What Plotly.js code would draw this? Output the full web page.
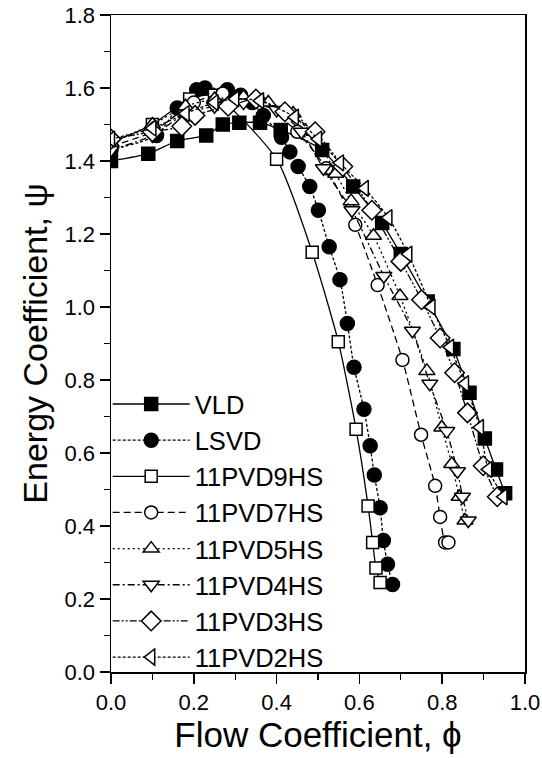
<!DOCTYPE html>
<html>
<head>
<meta charset="utf-8">
<script src="https://cdn.plot.ly/plotly-3.0.1.min.js"></script>
<style>html,body{margin:0;padding:0;background:#fff;}#chart{width:542px;height:758px;}</style>
</head>
<body>
<div id="chart"></div>
<script>
// Series names
const seriesNames = ["VLD", "LSVD", "11PVD9HS", "11PVD7HS", "11PVD5HS", "11PVD4HS", "11PVD3HS", "11PVD2HS"];

// Data (flow coefficient phi, energy coefficient psi)
const vldPhi = [0, 0.09, 0.16, 0.23, 0.27, 0.31, 0.36, 0.41, 0.51, 0.585, 0.655, 0.70, 0.765, 0.827, 0.866, 0.903, 0.93, 0.952];
const vldPsi = [1.40, 1.42, 1.455, 1.47, 1.50, 1.505, 1.505, 1.485, 1.43, 1.33, 1.23, 1.145, 1.015, 0.885, 0.765, 0.64, 0.555, 0.49];

const lsvdPhi = [0, 0.11, 0.16, 0.207, 0.227, 0.281, 0.313, 0.341, 0.368, 0.412, 0.432, 0.452, 0.48, 0.501, 0.527, 0.553, 0.571, 0.587, 0.611, 0.626, 0.636, 0.65, 0.658, 0.668, 0.68];
const lsvdPsi = [1.43, 1.47, 1.545, 1.595, 1.60, 1.595, 1.58, 1.56, 1.525, 1.465, 1.425, 1.385, 1.33, 1.265, 1.165, 1.075, 0.955, 0.835, 0.72, 0.62, 0.54, 0.45, 0.36, 0.295, 0.24];

const pvd9Phi = [0, 0.1, 0.19, 0.25, 0.40, 0.486, 0.549, 0.592, 0.621, 0.632, 0.640, 0.65];
const pvd9Psi = [1.45, 1.50, 1.57, 1.58, 1.405, 1.15, 0.905, 0.665, 0.455, 0.355, 0.285, 0.245];

const pvd7Phi = [0, 0.1, 0.2, 0.27, 0.35, 0.45, 0.52, 0.59, 0.644, 0.704, 0.749, 0.783, 0.795, 0.807, 0.815];
const pvd7Psi = [1.44, 1.48, 1.56, 1.585, 1.57, 1.48, 1.38, 1.225, 1.06, 0.855, 0.65, 0.51, 0.425, 0.355, 0.355];

const pvd5Phi = [0, 0.1, 0.18, 0.25, 0.32, 0.38, 0.44, 0.49, 0.543, 0.58, 0.634, 0.698, 0.763, 0.799, 0.823, 0.841, 0.855];
const pvd5Psi = [1.45, 1.50, 1.55, 1.57, 1.575, 1.56, 1.53, 1.48, 1.365, 1.29, 1.195, 1.03, 0.825, 0.67, 0.57, 0.48, 0.415];

const pvd4Phi = [0, 0.1, 0.18, 0.25, 0.32, 0.40, 0.46, 0.513, 0.582, 0.659, 0.728, 0.770, 0.811, 0.837, 0.849, 0.863];
const pvd4Psi = [1.43, 1.47, 1.53, 1.55, 1.56, 1.54, 1.48, 1.38, 1.265, 1.085, 0.935, 0.79, 0.66, 0.55, 0.48, 0.415];

const pvd3Phi = [0, 0.1, 0.171, 0.203, 0.283, 0.35, 0.42, 0.493, 0.56, 0.63, 0.70, 0.75, 0.795, 0.83, 0.861, 0.899, 0.933];
const pvd3Psi = [1.46, 1.48, 1.495, 1.525, 1.55, 1.57, 1.535, 1.48, 1.385, 1.265, 1.125, 1.02, 0.915, 0.82, 0.71, 0.565, 0.48];

const pvd2Phi = [0, 0.1, 0.18, 0.25, 0.30, 0.36, 0.444, 0.50, 0.553, 0.613, 0.67, 0.718, 0.774, 0.819, 0.855, 0.891, 0.911, 0.948];
const pvd2Psi = [1.46, 1.49, 1.53, 1.56, 1.57, 1.565, 1.52, 1.46, 1.395, 1.325, 1.245, 1.145, 1.0, 0.89, 0.79, 0.67, 0.555, 0.48];

// Axis ticks
const xTicks = [0.0, 0.2, 0.4, 0.6, 0.8, 1.0];
const xTickLabels = ["0.0", "0.2", "0.4", "0.6", "0.8", "1.0"];
const yTicks = [0.0, 0.2, 0.4, 0.6, 0.8, 1.0, 1.2, 1.4, 1.6, 1.8];
const yTickLabels = ["0.0", "0.2", "0.4", "0.6", "0.8", "1.0", "1.2", "1.4", "1.6", "1.8"];

const xs = [vldPhi, lsvdPhi, pvd9Phi, pvd7Phi, pvd5Phi, pvd4Phi, pvd3Phi, pvd2Phi];
const ys = [vldPsi, lsvdPsi, pvd9Psi, pvd7Psi, pvd5Psi, pvd4Psi, pvd3Psi, pvd2Psi];
const symbols = ["square", "circle", "square", "circle", "triangle-up", "triangle-down", "diamond", "triangle-left"];
const dashes = ["solid", "3px,2px", "solid", "7px,4px", "2px,3px", "7px,3px,2px,3px", "7px,2px,2px,2px,2px,2px", "3px,2px"];
const sizes = [13, 14, 12, 13, 14, 14, 15, 14];

const traces = seriesNames.map((n, i) => ({
  type: "scatter",
  mode: "lines+markers",
  name: n,
  x: xs[i],
  y: ys[i],
  legendgroup: "g" + i,
  line: {color: "#000", width: 1.3, dash: dashes[i], shape: "spline", smoothing: 0.6},
  marker: {
    symbol: symbols[i],
    size: sizes[i],
    color: i < 2 ? "#000" : "#fff",
    line: {color: "#000", width: 1.5}
  }
}));

const layout = {
  width: 542,
  height: 758,
  margin: {l: 111, r: 17, t: 15, b: 86},
  paper_bgcolor: "#fff",
  plot_bgcolor: "#fff",
  font: {family: "Liberation Sans, Arial, sans-serif", color: "#000"},
  showlegend: true,
  legend: {
    x: -0.008, y: 0.443, xanchor: "left", yanchor: "top",
    bgcolor: "rgba(0,0,0,0)",
    font: {size: 25.5, family: "Liberation Sans, Arial, sans-serif", color: "#000"},
    itemwidth: 77,
    tracegroupgap: 0,
    traceorder: "normal"
  },
  xaxis: {
    range: [0, 1.0],
    tickvals: xTicks,
    ticktext: xTickLabels,
    ticks: "outside",
    ticklen: 10,
    tickwidth: 1.5,
    tickcolor: "#000",
    minor: {dtick: 0.1, ticks: "outside", ticklen: 6, tickwidth: 1.2, tickcolor: "#000"},
    showline: true,
    linecolor: "#000",
    linewidth: 1.5,
    mirror: true,
    showgrid: false,
    zeroline: false,
    tickfont: {size: 22},
    title: {text: "Flow Coefficient, ϕ", font: {size: 35}, standoff: 6}
  },
  yaxis: {
    range: [0, 1.8],
    tickvals: yTicks,
    ticktext: yTickLabels,
    ticks: "outside",
    ticklen: 10,
    tickwidth: 1.5,
    tickcolor: "#000",
    minor: {dtick: 0.1, ticks: "outside", ticklen: 6, tickwidth: 1.2, tickcolor: "#000"},
    showline: true,
    linecolor: "#000",
    linewidth: 1.5,
    mirror: true,
    showgrid: false,
    zeroline: false,
    tickfont: {size: 22},
    title: {text: "Energy Coefficient, ψ", font: {size: 34}, standoff: 6}
  }
};

Plotly.newPlot("chart", traces, layout, {displayModeBar: false, staticPlot: true});
</script>
</body>
</html>
